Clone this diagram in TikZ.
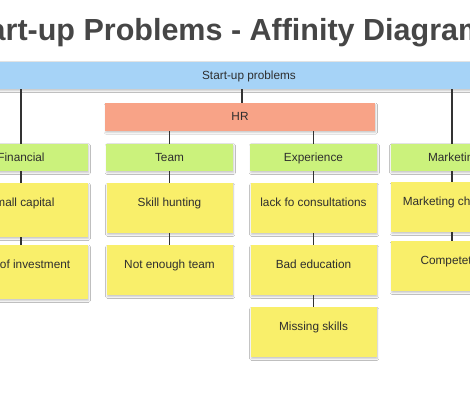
\documentclass[tikz,border=0pt]{standalone}
\usepackage{fontspec}
\setmainfont{Liberation Sans}
\usetikzlibrary{shadows.blur}
\definecolor{barblue}{HTML}{A6D3F7}
\definecolor{hrsalmon}{HTML}{F8A387}
\definecolor{grpgreen}{HTML}{CBF27C}
\definecolor{notey}{HTML}{F9EF6A}
\definecolor{linegray}{HTML}{333333}
\definecolor{txtgray}{HTML}{2E2E2E}
\definecolor{titlegray}{HTML}{464646}
\tikzset{
  shad/.style={blur shadow={shadow blur steps=5, shadow blur radius=1.6pt, shadow xshift=0.8pt, shadow yshift=-1.6pt, shadow opacity=22}},
  boxtext/.style={font=\fontsize{11.8}{14}\selectfont, text=txtgray},
  flatbox/.style={shad, boxtext, inner xsep=0pt, inner ysep=0pt, text height=8.5pt, text depth=1.5pt, minimum height=27.5pt},
  barbox/.style={flatbox, fill=barblue},
  hrbox/.style={flatbox, fill=hrsalmon, minimum height=28pt},
  grpbox/.style={flatbox, fill=grpgreen, minimum width=127pt},
  notebox/.style={shad, boxtext, fill=notey, anchor=north, inner xsep=0pt, inner ysep=4pt, minimum width=126pt, text height=19.5pt, text depth=22.5pt},
  tallnote/.style={notebox, text depth=26.5pt},
  conn/.style={draw=linegray, line width=1.5pt}
}
\begin{document}
\begin{tikzpicture}[x=1pt, y=-1pt]
\useasboundingbox (0,0) rectangle (470,400);
\clip (0,0) rectangle (470,400);
\fill[white] (0,0) rectangle (470,400);

\node[anchor=base west, font=\fontsize{30.5}{36}\selectfont\bfseries, text=titlegray, inner sep=0pt] (title) at (-42,40) {Start-up Problems - Affinity Diagram};

\node[barbox, minimum width=530pt] (top) at (249,75.5) {Start-up problems};
\node[hrbox, minimum width=270pt] (hr) at (240,117) {HR};

\node[grpbox, minimum width=134pt] (fin) at (21,157.5) {Financial};
\node[grpbox] (team) at (169.5,157.5) {Team};
\node[grpbox] (exp) at (313.5,157.5) {Experience};
\node[grpbox] (mkt) at (454,157.5) {Marketing};

\node[tallnote, minimum width=134pt] (f1) at (21,183) {Small capital};
\node[tallnote, minimum width=134pt] (f2) at (21,245) {Lack of investment};

\node[notebox] (t1) at (169.5,183) {Skill hunting};
\node[notebox] (t2) at (169.5,245) {Not enough team};

\node[notebox] (e1) at (313.5,183) {lack fo consultations};
\node[notebox] (e2) at (313.5,245) {Bad education};
\node[notebox] (e3) at (313.5,307) {Missing skills};

\node[notebox] (m1) at (454,182) {Marketing channels};
\node[notebox] (m2) at (454,241) {Competetion};

\draw[conn] (fin.north) -- (fin.north |- top.south);
\draw[conn] ([xshift=2pt]hr.north) -- ([xshift=2pt]hr.north |- top.south);
\draw[conn] ([xshift=-2pt]mkt.north) -- ([xshift=-2pt]mkt.north |- top.south);
\draw[conn] (team.north) -- (team.north |- hr.south);
\draw[conn] (exp.north) -- (exp.north |- hr.south);

\draw[conn] (fin.south) -- (f1.north);
\draw[conn] (f1.south) -- (f2.north);
\draw[conn] (team.south) -- (t1.north);
\draw[conn] (t1.south) -- (t2.north);
\draw[conn] (exp.south) -- (e1.north);
\draw[conn] (e1.south) -- (e2.north);
\draw[conn] (e2.south) -- (e3.north);
\draw[conn] ([xshift=-2pt]mkt.south) -- ([xshift=-2pt]m1.north);
\draw[conn] ([xshift=-2pt]m1.south) -- ([xshift=-2pt]m2.north);
\end{tikzpicture}
\end{document}
